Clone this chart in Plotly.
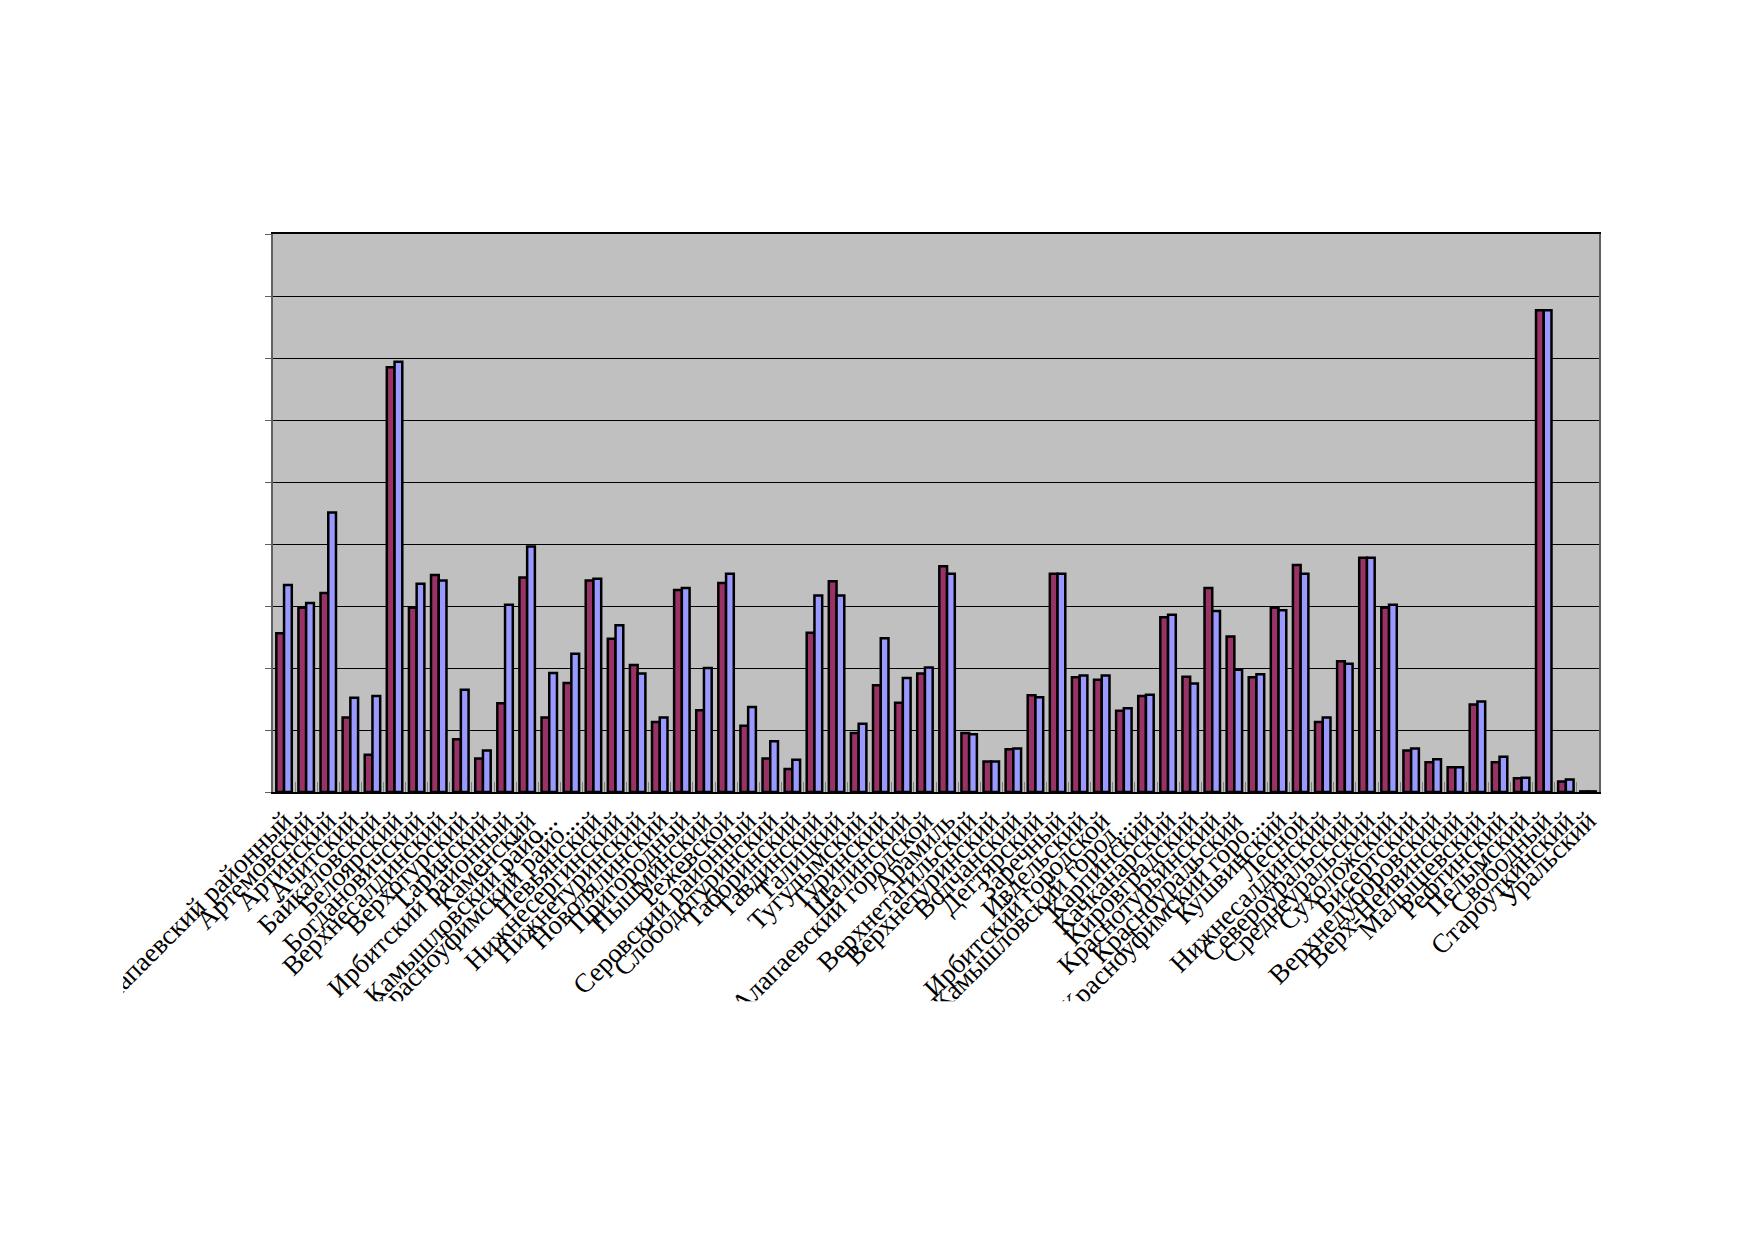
import plotly.graph_objects as go

# districts / city districts of Sverdlovsk oblast (category axis)
districts = [
    "Алапаевский районный", "Артемовский", "Артинский", "Ачитский", "Байкаловский",
    "Белоярский", "Богдановичский", "Верхнесалдинский", "Верхотурский", "Гаринский",
    "Ирбитский районный", "Каменский", "Камышловский райо...", "Красноуфимский райо...", "Невьянский",
    "Нижнесергинский", "Нижнетуринский", "Новолялинский", "Пригородный", "Пышминский",
    "Режевской", "Серовский районный", "Слободотуринский", "Таборинский", "Тавдинский",
    "Талицкий", "Тугулымский", "Туринский", "Шалинский", "Алапаевский городской",
    "Арамиль", "Верхнетагильский", "Верхнетуринский", "Волчанский", "Дегтярский",
    "Заречный", "Ивдельский", "Ирбитский городской", "Камышловский город...", "Карпинский",
    "Качканарский", "Кировградский", "Краснотурьинский", "Красноуральский", "Красноуфимский горо...",
    "Кушвинский", "Лесной", "Нижнесалдинский", "Североуральский", "Среднеуральский",
    "Сухоложский", "Бисертский", "Верхнедуборовский", "Верх-Нейвинский", "Малышевский",
    "Рефтинский", "Пелымский", "Свободный", "Староуткинский", "Уральский",
]

series1 = [
    2.56, 2.97, 3.21, 1.20, 0.60, 6.85, 2.97, 3.50, 0.85, 0.54,
    1.43, 3.46, 1.20, 1.76, 3.41, 2.47, 2.05, 1.13, 3.26, 1.32,
    3.37, 1.07, 0.54, 0.37, 2.57, 3.40, 0.95, 1.72, 1.44, 1.91,
    3.64, 0.95, 0.49, 0.69, 1.56, 3.52, 1.85, 1.81, 1.31, 1.55,
    2.82, 1.86, 3.29, 2.51, 1.85, 2.97, 3.66, 1.13, 2.11, 3.78,
    2.97, 0.67, 0.48, 0.40, 1.41, 0.48, 0.22, 7.77, 0.17, 0.01,
]

series2 = [
    3.34, 3.05, 4.51, 1.52, 1.55, 6.94, 3.36, 3.41, 1.65, 0.67,
    3.02, 3.96, 1.92, 2.23, 3.44, 2.69, 1.91, 1.20, 3.29, 2.00,
    3.52, 1.37, 0.82, 0.52, 3.17, 3.17, 1.10, 2.48, 1.84, 2.01,
    3.52, 0.93, 0.49, 0.70, 1.53, 3.52, 1.88, 1.88, 1.35, 1.57,
    2.86, 1.75, 2.92, 1.97, 1.90, 2.93, 3.52, 1.20, 2.07, 3.78,
    3.02, 0.70, 0.53, 0.40, 1.46, 0.57, 0.23, 7.77, 0.20, 0.01,
]

fig = go.Figure()
fig.add_trace(go.Bar(x=districts, y=series1, name="Ряд1",
                     marker=dict(color="#993366", line=dict(color="black", width=2.5))))
fig.add_trace(go.Bar(x=districts, y=series2, name="Ряд2",
                     marker=dict(color="#9999FF", line=dict(color="black", width=2.5))))

fig.update_layout(
    width=1752, height=1239,
    margin=dict(l=265, r=161, t=226, b=455),
    paper_bgcolor="white", plot_bgcolor="#C0C0C0",
    barmode="group", bargap=0.3, bargroupgap=0,
    showlegend=False,
    font=dict(family="Liberation Serif", color="black"),
)
fig.update_xaxes(
    type="category", tickangle=-45, automargin=False,
    tickmode="array", tickvals=districts, ticktext=districts,
    tickfont=dict(family="Liberation Serif", size=27, color="black"),
    showline=True, linecolor="black", linewidth=2, mirror=True,
    ticks="inside", tickson="boundaries", ticklen=10, tickcolor="#808080", tickwidth=1,
    showgrid=False,
)
fig.update_yaxes(
    range=[0, 9], dtick=1, showticklabels=False, automargin=False,
    showgrid=True, gridcolor="black", gridwidth=1, zeroline=False,
    showline=True, linecolor="#606060", linewidth=2, mirror=True,
    ticks="outside", ticklen=6, tickcolor="#606060",
)

# the original chart area clips the long category labels at its bottom and left edge
fig.add_shape(type="rect", xref="paper", yref="paper", x0=-0.3, x1=1.3, y0=-1.0, y1=-0.375,
              fillcolor="white", line_width=0, layer="above")
fig.add_shape(type="rect", xref="paper", yref="paper", x0=-0.3, x1=-0.113, y0=-1.0, y1=1.5,
              fillcolor="white", line_width=0, layer="above")

fig.write_html("out.html")
